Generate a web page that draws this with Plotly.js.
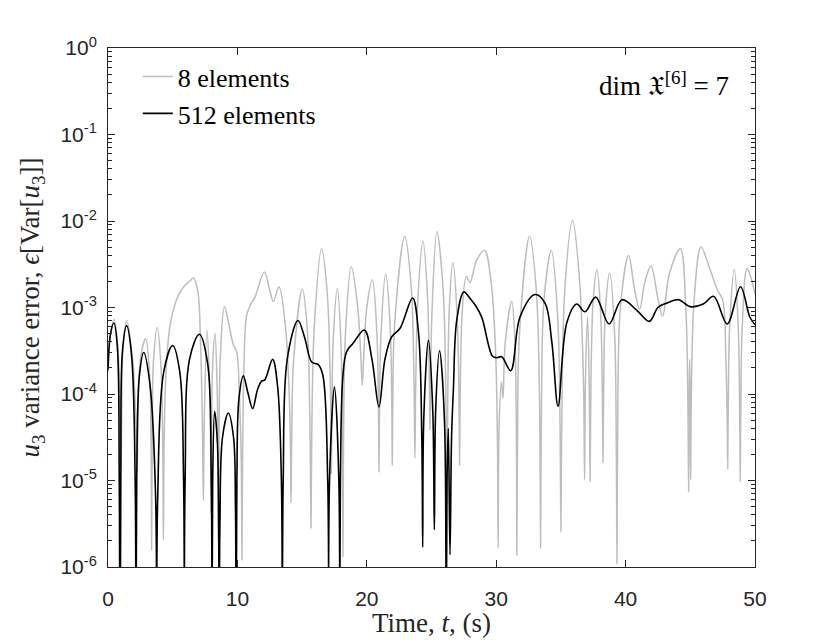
<!DOCTYPE html>
<html>
<head>
<meta charset="utf-8">
<script src="https://cdn.plot.ly/plotly-3.0.1.min.js"></script>
<style>html,body{margin:0;padding:0;background:#fff;}</style>
</head>
<body>
<div id="chart" style="width:830px;height:642px;"></div>
<script>
// Series names
const seriesNames = ['8 elements', '512 elements'];

// 8 elements: time (s) and log10 of variance error
const t8 = [0.0,0.2,0.47,0.78,0.94,1.0,1.06,1.15,1.44,1.9,2.17,2.24,2.31,2.5,2.91,3.22,3.33,3.37,3.42,3.52,3.81,4.1,4.23,4.28,4.34,4.5,4.8,5.2,5.51,5.9,6.3,6.6,6.93,7.15,7.3,7.37,7.44,7.65,7.85,7.93,7.96,8.0,8.08,8.27,8.43,8.5,8.53,8.57,8.7,9.0,9.35,9.68,9.94,10.15,10.3,10.35,10.4,10.52,10.7,11.0,11.36,12.08,12.5,12.78,13.21,13.7,13.98,14.1,14.14,14.19,14.35,15.02,15.4,15.6,15.69,15.76,15.95,16.51,16.95,17.15,17.23,17.26,17.3,17.4,17.72,18.0,18.11,18.16,18.21,18.35,18.8,19.3,19.55,19.65,19.75,20.0,20.43,20.78,20.9,20.94,20.98,21.1,21.46,21.8,21.93,21.97,22.01,22.15,22.93,23.45,23.65,23.72,23.78,23.95,24.34,24.7,24.83,24.88,24.93,25.05,25.42,25.9,26.1,26.2,26.26,26.38,26.66,26.98,27.12,27.17,27.22,27.36,27.69,27.97,28.5,29.1,29.6,29.95,30.1,30.15,30.22,30.4,30.52,30.7,31.2,31.45,31.56,31.6,31.65,31.8,32.58,33.1,33.35,33.43,33.5,33.7,34.26,34.75,34.93,35.0,35.07,35.3,35.9,36.45,36.75,36.83,36.9,37.06,37.18,37.26,37.33,37.5,37.79,38.08,38.2,38.25,38.3,38.45,38.77,39.15,39.28,39.33,39.38,39.6,40.23,40.7,41.08,41.5,41.96,42.5,42.86,43.4,44.23,44.65,44.82,44.87,44.92,44.95,44.99,45.03,45.08,45.3,45.83,46.5,47.1,47.5,47.75,47.85,47.89,47.93,48.05,48.4,48.7,48.82,48.86,48.9,49.02,49.38,49.7,50.0];
const logErr8 = [-3.75,-3.3,-3.14,-3.5,-4.3,-4.88,-4.3,-3.5,-3.15,-3.6,-4.4,-4.9,-4.4,-3.6,-3.36,-3.8,-4.6,-5.8,-4.5,-3.6,-3.23,-3.7,-4.6,-5.69,-4.5,-3.7,-3.2,-2.95,-2.84,-2.75,-2.7,-2.66,-2.8,-3.4,-4.4,-5.23,-4.3,-3.26,-3.9,-4.6,-5.38,-4.5,-3.7,-3.3,-3.9,-4.7,-5.69,-4.7,-3.5,-2.99,-3.2,-3.43,-3.51,-4.0,-4.8,-5.92,-4.8,-3.6,-3.1,-2.97,-2.88,-2.59,-2.8,-2.93,-2.76,-3.2,-3.9,-4.6,-5.26,-4.6,-3.6,-2.79,-3.25,-4.3,-5.55,-4.3,-3.2,-2.32,-2.85,-3.7,-4.3,-4.92,-4.3,-3.4,-2.78,-3.4,-4.4,-5.88,-4.4,-3.3,-2.53,-3.0,-3.6,-3.9,-3.6,-3.0,-2.68,-3.3,-4.2,-4.9,-4.2,-3.3,-2.61,-3.2,-4.1,-4.82,-4.1,-3.2,-2.18,-2.8,-3.9,-4.74,-3.9,-2.9,-2.23,-2.9,-3.8,-4.42,-3.8,-3.0,-2.12,-2.8,-3.9,-5.26,-4.0,-3.0,-2.48,-3.1,-4.0,-4.82,-4.0,-3.1,-2.64,-2.71,-2.45,-2.34,-2.7,-3.5,-4.6,-5.78,-4.4,-3.86,-4.05,-3.4,-2.93,-3.4,-4.5,-5.86,-4.5,-3.3,-2.18,-2.8,-4.1,-5.78,-4.1,-2.9,-2.34,-3.1,-4.3,-5.59,-4.3,-2.8,-1.99,-2.7,-3.9,-4.99,-3.8,-3.11,-3.8,-5.01,-3.8,-2.9,-2.56,-3.1,-4.0,-4.79,-4.0,-3.0,-2.6,-3.3,-4.6,-5.96,-4.6,-3.0,-2.4,-2.8,-3.02,-2.7,-2.52,-2.9,-3.1,-2.6,-2.32,-3.0,-4.2,-5.13,-4.0,-3.6,-4.0,-4.99,-4.0,-2.9,-2.3,-2.55,-2.8,-2.91,-3.6,-4.3,-4.86,-4.2,-3.2,-2.56,-3.2,-4.3,-5.01,-4.2,-3.2,-2.55,-2.66,-2.85];

// 512 elements: time (s) and log10 of variance error
const t512 = [0.0,0.2,0.46,0.72,0.87,0.93,0.99,1.12,1.44,1.82,2.1,2.16,2.22,2.42,2.76,3.25,3.68,3.76,3.84,4.3,5.0,5.55,5.84,5.9,5.96,6.3,7.06,7.7,7.98,8.04,8.09,8.24,8.45,8.55,8.6,8.65,8.85,9.3,9.7,9.85,9.9,9.96,10.12,10.46,10.8,11.18,11.55,11.87,12.1,12.72,13.1,13.4,13.47,13.54,13.85,14.68,15.2,15.74,16.25,16.6,16.98,17.05,17.12,17.5,17.84,17.9,17.96,18.15,18.44,18.96,19.81,20.4,20.94,21.4,21.92,22.57,23.54,24.0,24.25,24.32,24.4,24.76,25.1,25.22,25.32,25.62,26.0,26.12,26.2,26.3,26.43,26.55,26.69,26.95,27.5,28.0,28.5,28.9,29.7,30.0,30.42,31.12,31.84,33.0,33.77,34.3,34.78,35.45,36.22,36.86,37.69,38.72,39.72,40.85,41.83,42.5,43.17,44.1,44.98,46.0,46.8,47.85,48.88,49.6,50.0];
const logErr512 = [-3.72,-3.3,-3.18,-3.45,-5.0,-8,-5.0,-3.5,-3.21,-3.55,-5.0,-8,-5.0,-3.8,-3.52,-3.9,-5.2,-8,-5.2,-3.75,-3.44,-3.75,-5.0,-8,-5.0,-3.6,-3.31,-3.65,-5.0,-8,-5.0,-4.2,-4.55,-5.5,-8,-5.5,-4.5,-4.22,-4.5,-5.3,-8,-5.0,-4.05,-3.79,-3.98,-4.17,-3.95,-3.85,-3.84,-3.6,-3.9,-5.0,-8,-5.0,-3.6,-3.15,-3.35,-3.63,-3.66,-3.78,-5.0,-8,-5.0,-3.92,-5.0,-8,-5.0,-3.8,-3.51,-3.41,-3.26,-3.6,-4.15,-3.6,-3.34,-3.24,-2.89,-3.3,-4.5,-5.77,-4.3,-3.38,-4.2,-5.57,-4.2,-3.5,-4.3,-8,-5.0,-4.4,-5.86,-4.5,-3.95,-3.15,-2.82,-2.9,-3.0,-3.12,-3.56,-3.58,-3.57,-3.73,-3.11,-2.85,-2.95,-3.4,-4.14,-3.18,-2.96,-3.05,-2.88,-3.19,-2.91,-3.03,-3.16,-3.0,-2.95,-2.91,-2.99,-2.96,-2.87,-3.19,-2.76,-3.11,-3.2];

// Axis ticks and titles
const xTickVals = [0, 10, 20, 30, 40, 50];
const xTickText = ['0', '10', '20', '30', '40', '50'];
const yTickVals = [1e-6, 1e-5, 1e-4, 1e-3, 1e-2, 1e-1, 1e0];
const yTickText = ['10<sup>-6</sup>', '10<sup>-5</sup>', '10<sup>-4</sup>', '10<sup>-3</sup>', '10<sup>-2</sup>', '10<sup>-1</sup>', '10<sup>0</sup>'];
const yMinorMantissas = [2, 3, 4, 5, 6, 7, 8, 9];
const yMinorVals = [];
yTickVals.slice(0, -1).forEach(d => yMinorMantissas.forEach(m => yMinorVals.push(m * d)));
const xTitle = 'Time, <i>t</i>, (s)';
const yTitle = '<i>u</i><sub>3</sub> variance error, <i>ϵ</i>[Var[<i>u</i><sub>3</sub>]]';
const dimLabel = 'dim 𝔛<sup>[6]</sup> = 7';

const toVal = a => a.map(e => Math.pow(10, e));

const axisColor = '#262626';
const serif = 'Liberation Serif, Times New Roman, serif';
const sans = 'Liberation Sans, Arial, Helvetica, sans-serif';

const traces = [
  {x: t8, y: toVal(logErr8), name: seriesNames[0], type: 'scatter', mode: 'lines',
   line: {color: '#bdbdbd', width: 1.5, shape: 'spline', smoothing: 1}},
  {x: t512, y: toVal(logErr512), name: seriesNames[1], type: 'scatter', mode: 'lines',
   line: {color: '#000000', width: 1.6, shape: 'spline', smoothing: 1}},
  // invisible carrier trace so the minor-tick axis is drawn
  {x: [0], y: [1e-3], yaxis: 'y2', type: 'scatter', mode: 'markers', marker: {opacity: 0},
   showlegend: false, hoverinfo: 'skip'}
];

const layout = {
  width: 830, height: 642,
  margin: {l: 108, r: 75, t: 48, b: 75},
  paper_bgcolor: '#ffffff', plot_bgcolor: '#ffffff',
  showlegend: true,
  legend: {x: 0.046, y: 0.99, xanchor: 'left', yanchor: 'top', bgcolor: 'rgba(255,255,255,0)',
           borderwidth: 0, font: {family: serif, size: 26, color: '#000'}, tracegroupgap: 0},
  xaxis: {
    range: [0, 50], tickmode: 'array', tickvals: xTickVals, ticktext: xTickText,
    ticks: 'inside', ticklen: 7, tickwidth: 1, tickcolor: axisColor,
    showline: true, linecolor: axisColor, linewidth: 1, mirror: 'ticks',
    showgrid: false, zeroline: false,
    tickfont: {family: sans, size: 21, color: axisColor}, ticklabelstandoff: 13
  },
  yaxis: {
    type: 'log', range: [-6, 0], tickmode: 'array', tickvals: yTickVals, ticktext: yTickText,
    ticks: 'inside', ticklen: 7, tickwidth: 1, tickcolor: axisColor,
    showline: true, linecolor: axisColor, linewidth: 1, mirror: 'ticks',
    showgrid: false, zeroline: false,
    tickfont: {family: sans, size: 21, color: axisColor}, ticklabelstandoff: 6,
    title: {text: yTitle, font: {family: serif, size: 27, color: axisColor}, standoff: 12}
  },
  yaxis2: {
    type: 'log', range: [-6, 0], overlaying: 'y', side: 'left', anchor: 'x',
    tickmode: 'array', tickvals: yMinorVals, showticklabels: false,
    ticks: 'inside', ticklen: 4, tickwidth: 1, tickcolor: axisColor,
    showline: true, linecolor: axisColor, linewidth: 1, mirror: 'ticks',
    showgrid: false, zeroline: false
  },
  annotations: [
    {xref: 'paper', yref: 'paper', x: 0.963, y: 0.93, xanchor: 'right', yanchor: 'middle',
     text: dimLabel, showarrow: false, font: {family: serif, size: 27, color: '#000'}},
    {xref: 'paper', yref: 'paper', x: 0.5, y: -0.107, xanchor: 'center', yanchor: 'middle',
     text: xTitle, showarrow: false, font: {family: serif, size: 27, color: axisColor}}
  ]
};

Plotly.newPlot('chart', traces, layout, {displayModeBar: false, staticPlot: true});
</script>
</body>
</html>
